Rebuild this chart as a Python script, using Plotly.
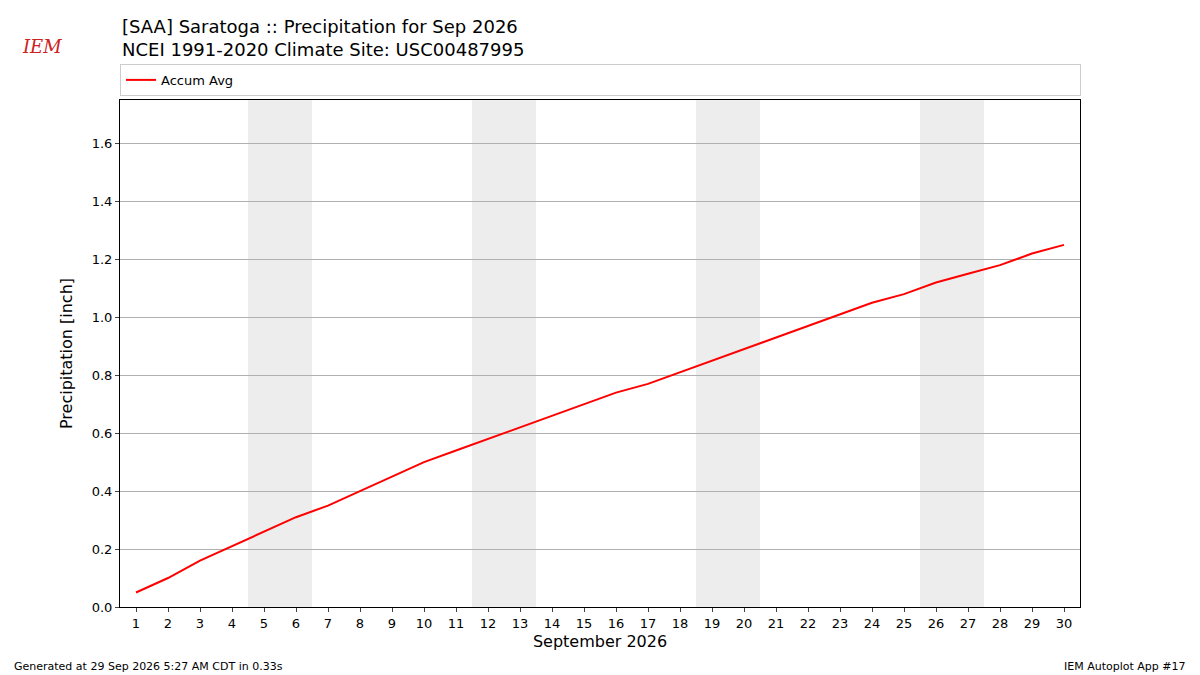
import plotly.graph_objects as go

days = list(range(1, 31))
accum_avg = [0.05, 0.10, 0.16, 0.21, 0.26, 0.31, 0.35, 0.40, 0.45, 0.50,
             0.54, 0.58, 0.62, 0.66, 0.70, 0.74, 0.77, 0.81, 0.85, 0.89,
             0.93, 0.97, 1.01, 1.05, 1.08, 1.12, 1.15, 1.18, 1.22, 1.25]
weekends = [(4.5, 6.5), (11.5, 13.5), (18.5, 20.5), (25.5, 27.5)]
y_ticks = [0.0, 0.2, 0.4, 0.6, 0.8, 1.0, 1.2, 1.4, 1.6]

fig = go.Figure()
fig.add_trace(go.Scatter(x=days, y=accum_avg, mode="lines", name="Accum Avg",
                         line=dict(color="red", width=2)))
for a, b in weekends:
    fig.add_vrect(x0=a, x1=b, fillcolor="#ededed", line_width=0, layer="below")

fig.update_layout(
    width=1192, height=667, plot_bgcolor="white", paper_bgcolor="white",
    margin=dict(l=112, r=120, t=92, b=68, autoexpand=False),
    font=dict(family="DejaVu Sans", size=13, color="black"),
    showlegend=True,
    legend=dict(x=0, y=1.008, xanchor="left", yanchor="bottom", orientation="h",
                bordercolor="#cccccc", borderwidth=1, font=dict(size=13),
                entrywidth=914, tracegroupgap=0, itemwidth=30),
    xaxis=dict(range=[0.5, 30.5], tickvals=days, ticks="outside", ticklen=4,
               showline=True, linecolor="black", mirror=True, showgrid=False,
               title=dict(text="September 2026", font=dict(size=16), standoff=6),
               tickfont=dict(size=13)),
    yaxis=dict(range=[0, 1.75], tickvals=y_ticks,
               ticktext=[f"{v:.1f}" for v in y_ticks], ticks="outside", ticklen=4,
               showline=True, linecolor="black", mirror=True, showgrid=True,
               gridcolor="#b0b0b0", zeroline=False,
               title=dict(text="Precipitation [inch]", font=dict(size=16)),
               tickfont=dict(size=13)),
)
fig.add_annotation(text="[SAA] Saratoga :: Precipitation for Sep 2026<br>NCEI 1991-2020 Climate Site: USC00487995",
                   xref="paper", yref="paper", x=0, y=1.17,
                   xanchor="left", yanchor="top", showarrow=False, align="left",
                   font=dict(size=18))
fig.add_annotation(text="<i>IEM</i>", xref="paper", yref="paper", x=-0.104, y=1.13,
                   xanchor="left", yanchor="top", showarrow=False,
                   font=dict(size=18, color="#cc2222", family="DejaVu Serif"))
fig.add_annotation(text="Generated at 29 Sep 2026 5:27 AM CDT in 0.33s",
                   xref="paper", yref="paper", x=-0.1125, y=-0.1, xanchor="left",
                   yanchor="top", showarrow=False, font=dict(size=11))
fig.add_annotation(text="IEM Autoplot App #17", xref="paper", yref="paper",
                   x=1.1125, y=-0.1, xanchor="right", yanchor="top",
                   showarrow=False, font=dict(size=11))
fig.write_html("out.html")
